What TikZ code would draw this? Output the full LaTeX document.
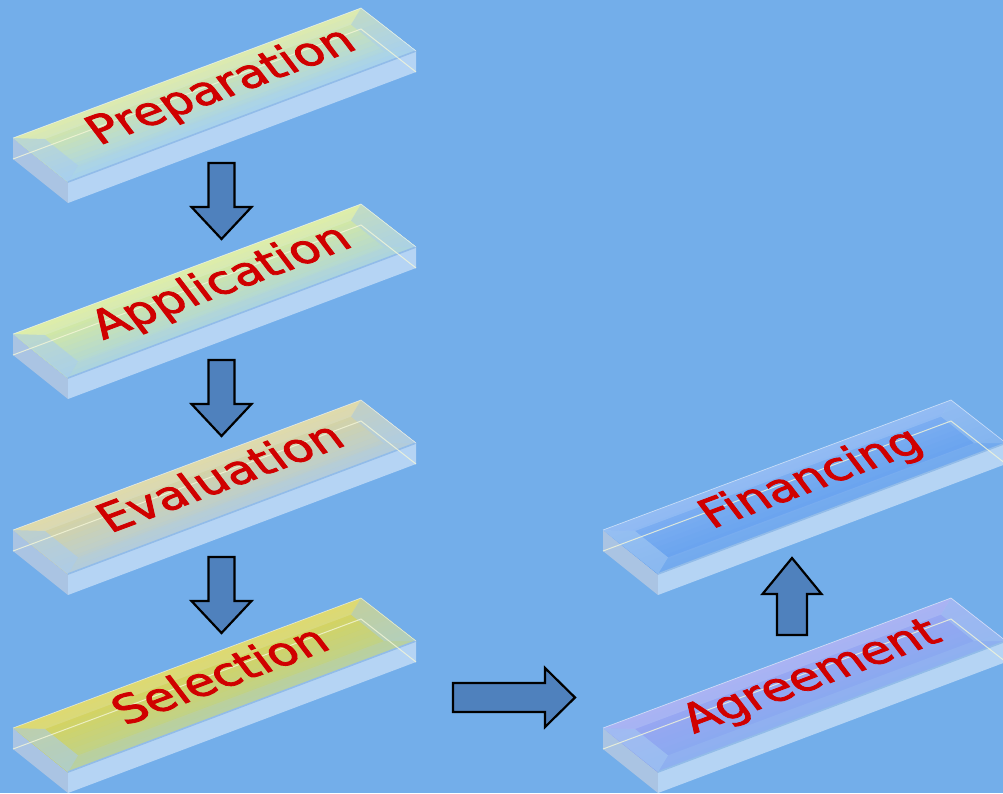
\documentclass[tikz,border=0pt]{standalone}
\usepackage{fontspec}
\setmainfont{DejaVu Sans}
\newfontfamily\slabfont[FakeBold=2]{DejaVu Sans}
\usetikzlibrary{calc}
\definecolor{bgblue}{HTML}{73AEEA}
\definecolor{arrowfill}{HTML}{4F81BD}
\definecolor{textred}{HTML}{D00000}
\definecolor{sideleft}{HTML}{AAC4E3}
\definecolor{sidefront}{HTML}{B5D4F4}
\definecolor{rimline}{HTML}{92BCE9}
\definecolor{bevel}{HTML}{A8CCF2}
\definecolor{glint}{HTML}{F4F6D8}
\definecolor{prepA}{HTML}{D6E7A3}\definecolor{prepB}{HTML}{A8D4EA}
\definecolor{applA}{HTML}{D8EA9C}\definecolor{applB}{HTML}{AED6DA}
\definecolor{evalA}{HTML}{D9D49E}\definecolor{evalB}{HTML}{B6CDD6}
\definecolor{seleA}{HTML}{D8D35A}\definecolor{seleB}{HTML}{BCD290}
\definecolor{finaA}{HTML}{80B0F2}\definecolor{finaB}{HTML}{66A2EE}
\definecolor{agreA}{HTML}{9AA6F2}\definecolor{agreB}{HTML}{88AAF0}
\tikzset{
  blockarrow/.style={fill=arrowfill, draw=black, line width=2.2pt, line join=miter},
  slabtext/.style={text=textred, font=\slabfont\fontsize{48}{52}\selectfont, rotate=20.5,
                   xslant=-0.3, yscale=0.87, anchor=base, inner sep=0pt},
}
\newcommand{\glassslab}[6]{%
\begin{scope}[shift={(#2,#3)}]
  \coordinate (#1-L) at (13,138);
  \coordinate (#1-B) at (361,8);
  \coordinate (#1-R) at (416,51);
  \coordinate (#1-F) at (68,182);
  \coordinate (#1-Ld) at (13,159);
  \coordinate (#1-Bd) at (361,29);
  \coordinate (#1-Rd) at (416,72);
  \coordinate (#1-Fd) at (68,203);
  \coordinate (#1-Li) at (45,139);
  \coordinate (#1-Bi) at (351,24.6);
  \coordinate (#1-Ri) at (384,51);
  \coordinate (#1-Fi) at (78,165.4);
  \fill[sideleft] (#1-L) -- (#1-F) -- (#1-Fd) -- (#1-Ld) -- cycle;
  \fill[sidefront] (#1-F) -- (#1-R) -- (#1-Rd) -- (#1-Fd) -- cycle;
  \foreach \k in {0,...,11} {
    \pgfmathsetmacro{\tv}{\k/12}
    \pgfmathtruncatemacro{\pc}{round(100*\k/11)}
    \fill[#5!\pc!#4] ($(#1-L)!\tv!(#1-F)$) -- ($(#1-B)!\tv!(#1-R)$) -- (#1-R) -- (#1-F) -- cycle;
  }
  \fill[bevel, opacity=0.55] (#1-L) -- (#1-Li) -- (#1-Fi) -- (#1-F) -- cycle;
  \fill[bevel, opacity=0.45] (#1-B) -- (#1-R) -- (#1-Ri) -- (#1-Bi) -- cycle;
  \fill[bevel, opacity=0.2] (#1-F) -- (#1-Fi) -- (#1-Ri) -- (#1-R) -- cycle;
  \fill[white, opacity=0.15] (#1-L) -- (#1-B) -- (#1-Bi) -- (#1-Li) -- cycle;
  \draw[rimline, line width=1.6pt] (#1-F) -- (#1-R);
  \draw[white, opacity=0.55, line width=0.7pt] (#1-L) -- (#1-B) -- (#1-R);
  \draw[glint, opacity=0.8, line width=1pt] (#1-Ld) -- (#1-Bd) -- (#1-Rd);
  \node[slabtext] (#1) at (229,97) {#6};
\end{scope}}
\begin{document}
\begin{tikzpicture}[x=1pt, y=-1pt]
  \useasboundingbox (0,0) rectangle (1003,793);
  \fill[bgblue] (0,0) rectangle (1003,793);
  \clip (0,0) rectangle (1003,793);

  \glassslab{prep}{0}{0}{prepA}{prepB}{Preparation}
  \glassslab{appl}{0}{196}{applA}{applB}{Application}
  \glassslab{eval}{0}{392}{evalA}{evalB}{Evaluation}
  \glassslab{sele}{0}{590}{seleA}{seleB}{Selection}
  \glassslab{fina}{590}{392}{finaA}{finaB}{Financing}
  \glassslab{agre}{590}{590}{agreA}{agreB}{Agreement}

  % down arrows
  \foreach \yy in {163,360,557} {
    \begin{scope}[shift={(221.5,\yy)}]
      \draw[blockarrow] (-13,0) -- (13,0) -- (13,44) -- (30,44) -- (0,76) -- (-30,44) -- (-13,44) -- cycle;
    \end{scope}
  }
  % right arrow
  \begin{scope}[shift={(453,697.5)}]
    \draw[blockarrow] (0,-14.5) -- (92,-14.5) -- (92,-29.5) -- (122,0) -- (92,29.5) -- (92,14.5) -- (0,14.5) -- cycle;
  \end{scope}
  % up arrow
  \begin{scope}[shift={(792,558)}]
    \draw[blockarrow] (0,0) -- (29.5,36) -- (15,36) -- (15,77) -- (-15,77) -- (-15,36) -- (-29.5,36) -- cycle;
  \end{scope}
\end{tikzpicture}
\end{document}
